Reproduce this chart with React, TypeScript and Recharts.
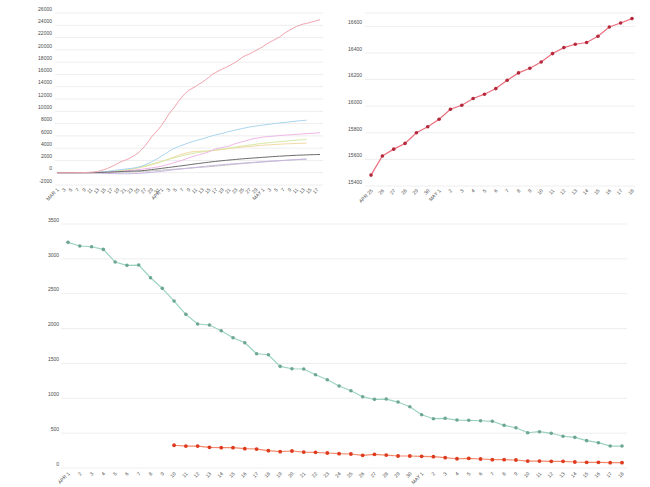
import { LineChart, Line, XAxis, YAxis, CartesianGrid } from "recharts";

// date labels: month shown on the first label of each run
const days = (month: string, from: number, to: number) => {
  const out: string[] = [];
  for (let d = from; d <= to; d++) out.push(d === from ? `${month} ${d}` : String(d));
  return out;
};

// top left: cumulative totals, MAR 1 - MAY 18
const totalDates = [...days("MAR", 1, 31), ...days("APR", 1, 30), ...days("MAY", 1, 18)];
const pinkTotals = [0,0,0,0,0,0,10,20,30,50, 80,120,200,350,500,700,950,1200,1500,1800, 2000,2200,2500,2800,3200,3700,4300,5000,5800,6400, 7000,7700,8500,9400,10100,10800,11600,12300,12900,13400, 13700,14000,14400,14700,15100,15500,16000,16300,16600,16900, 17100,17400,17700,18000,18400,18800,19100,19300,19600,19900, 20200,20500,20900,21200,21500,21800,22100,22500,22900,23200, 23500,23800,24000,24200,24300,24450,24600,24750,24900];
const blueTotals = [0,0,0,0,0,0,0,5,10,20, 30,50,80,120,170,230,300,380,450,520, 580,640,700,780,900,1050,1250,1500,1750,2050, 2350,2700,3050,3400,3750,4000,4250,4450,4650,4850, 5050,5200,5350,5500,5650,5850,6000,6150,6280,6400, 6550,6700,6830,6950,7080,7200,7320,7430,7520,7600, 7680,7750,7820,7890,7960,8030,8100,8160,8220,8280, 8340,8400,8450,8500,8550,null,null,null,null];
const magentaTotals = [0,0,0,0,0,0,0,0,5,10, 20,30,40,60,80,100,130,160,200,240, 280,330,380,440,500,560,630,700,780,870, 960,1060,1200,1350,1500,1700,1850,2000,2200,2400, 2600,2750,2900,3050,3200,3400,3650,3850,4000,4100, 4200,4350,4550,4750,4900,5050,5200,5350,5500,5600, 5700,5800,5850,5900,5950,6000,6050,6100,6130,6160, 6200,6240,6280,6320,6360,6400,6430,6460,6500];
const limeTotals = [0,0,0,0,0,0,0,0,10,20, 40,60,80,110,140,170,200,260,330,400, 480,560,650,750,860,980,1100,1250,1400,1550, 1700,1850,2000,2150,2300,2450,2600,2750,2900,3000, 3100,3200,3300,3380,3460,3540,3620,3700,3780,3860, 3940,4020,4100,4180,4260,4340,4420,4500,4570,4640, 4710,4780,4840,4900,4950,5000,5050,5100,5150,5200, 5250,5300,5340,5380,5420,null,null,null,null];
const yellowTotals = [0,0,0,0,0,0,0,0,5,10, 20,40,60,80,100,110,120,170,230,300, 380,460,550,650,760,880,1000,1150,1300,1450, 1600,1800,2000,2200,2400,2600,2800,3000,3150,3300, 3400,3450,3480,3500,3520,3550,3580,3620,3700,3780, 3850,3920,3990,4050,4110,4170,4220,4270,4320,4370, 4420,4460,4500,4540,4580,4610,4640,4670,4700,4720, 4740,4760,4780,4800,4820,null,null,null,null];
const darkTotals = [0,0,0,0,0,0,0,0,0,0, 0,10,20,40,60,90,110,140,160,190, 210,230,250,270,290,320,370,430,500,570, 640,710,780,850,920,990,1060,1130,1200,1280, 1360,1430,1500,1570,1640,1710,1780,1840,1900,1960, 2010,2060,2110,2160,2210,2260,2300,2340,2380,2420, 2460,2500,2540,2580,2620,2660,2690,2720,2750,2780, 2810,2840,2860,2880,2900,2920,2940,2950,2960];
const greyTotals = [0,0,0,0,0,0,0,0,0,0, 10,20,30,40,50,60,70,80,90,100, 110,120,140,160,180,200,230,260,300,340, 380,420,460,500,540,580,620,660,700,740, 780,820,860,900,940,980,1030,1080,1130,1180, 1230,1280,1330,1380,1430,1480,1530,1580,1620,1660, 1700,1740,1780,1820,1860,1900,1940,1980,2020,2060, 2100,2140,2180,2210,2240,null,null,null,null];
const purpleTotals = [0,0,0,0,0,0,0,0,0,0, -20,-40,-60,-80,-100,-120,-140,-150,-160,-170, -170,-160,-150,-130,-110,-80,-40,0,50,100, 160,220,290,360,430,500,560,620,680,740, 800,860,920,980,1040,1100,1150,1200,1250,1300, 1350,1400,1440,1480,1520,1560,1600,1640,1680,1720, 1760,1800,1840,1880,1910,1940,1970,2000,2030,2060, 2090,2120,2150,2170,2190,null,null,null,null];
const totalTicks = [-2000,0,2000,4000,6000,8000,10000,12000,14000,16000,18000,20000,22000,24000,26000];

// top right: APR 25 - MAY 18
const recentDates = [...days("APR", 25, 30), ...days("MAY", 1, 18)];
const recentValues = [15482,15625,15677,15720,15800,15845,15902,15977,16007,16058,16090,16132,16195,16250,16285,16332,16395,16440,16465,16478,16525,16595,16625,16658];
const recentTicks = [15400,15600,15800,16000,16200,16400,16600];

// bottom: APR 1 - MAY 18
const dailyDates = [...days("APR", 1, 30), ...days("MAY", 1, 18)];
const greenDaily = [3237,3184,3174,3136,2954,2907,2911,2729,2577,2395, 2204,2065,2051,1969,1869,1797,1639,1625,1458,1424, 1420,1338,1266,1176,1108,1022,985,989,946,879, 764,707,713,688,684,678,670,612,578,506, 521,498,455,440,392,363,315,315];
const redDaily = [null,null,null,null,null,null,null,null,null, 326,315,315,297,291,291,277,272,248,234, 244,229,225,215,205,201,182,196,186,172, 172,168,162,148,133,139,129,119,119,115, 100,100,96,96,86,82,82,76,76];
const dailyTicks = [0,500,1000,1500,2000,2500,3000,3500];

const totalsData = totalDates.map((date, i) => ({
  date,
  pink: pinkTotals[i],
  blue: blueTotals[i],
  magenta: magentaTotals[i],
  lime: limeTotals[i],
  yellow: yellowTotals[i],
  dark: darkTotals[i],
  grey: greyTotals[i],
  purple: purpleTotals[i],
}));
const recentData = recentDates.map((date, i) => ({ date, value: recentValues[i] }));
const dailyData = dailyDates.map((date, i) => ({ date, green: greenDaily[i], red: redDaily[i] }));

const LABEL = "#4a4a4a";

const YTick = (props: any) => (
  <text x={props.x} y={props.y - 4} dy="0.355em" textAnchor="end" fontSize={5} fill={LABEL}>
    {props.payload.value}
  </text>
);

const XTick = (props: any) => {
  const { x, y, payload, only } = props;
  if (only && !only(payload.value)) return null;
  return (
    <g transform={`translate(${x},${y})`}>
      <text transform="rotate(-45)" textAnchor="end" dy={3} fontSize={5} fill={LABEL}>
        {payload.value}
      </text>
    </g>
  );
};

const oddDay = (label: string) => parseInt(label.split(" ").pop() as string, 10) % 2 === 1;

const totalsSeries = [
  { key: "grey", color: "#c4c4c4" },
  { key: "purple", color: "#c9b6e4" },
  { key: "yellow", color: "#f3d9a3" },
  { key: "lime", color: "#d6e8a4" },
  { key: "magenta", color: "#f1b6e6" },
  { key: "blue", color: "#a9d5ef" },
  { key: "dark", color: "#6b6b6b" },
  { key: "pink", color: "#f0a3ad" },
];

export default function App() {
  return (
    <div style={{ position: "absolute", left: 0, top: 0, width: 650, height: 487, background: "#fff", fontFamily: "Arial, sans-serif" }}>
      <div style={{ position: "absolute", left: 0, top: 0 }}>
        <LineChart width={330} height={215} data={totalsData} margin={{ top: 13, right: 7, left: 0, bottom: 0 }}>
          <CartesianGrid vertical={false} stroke="#eeeeee" />
          <XAxis dataKey="date" interval={0} height={30} tickSize={0} tickMargin={3} axisLine={false} padding={{ left: 2, right: 3 }} tick={<XTick only={oddDay} />} />
          <YAxis width={55} domain={[-2000, 26000]} ticks={totalTicks} interval={0} tickSize={0} tickMargin={3} axisLine={false} tick={<YTick />} />
          {totalsSeries.map((s) => (
            <Line key={s.key} dataKey={s.key} type="linear" stroke={s.color} strokeWidth={1} dot={false} isAnimationActive={false} />
          ))}
        </LineChart>
      </div>
      <div style={{ position: "absolute", left: 330, top: 0 }}>
        <LineChart width={320} height={215} data={recentData} margin={{ top: 13, right: 15, left: 0, bottom: 0 }}>
          <CartesianGrid vertical={false} stroke="#eeeeee" />
          <XAxis dataKey="date" interval={0} height={29} tickSize={0} tickMargin={3} axisLine={false} padding={{ left: 6, right: 3 }} tick={<XTick />} />
          <YAxis width={35} domain={[15400, 16700]} ticks={recentTicks} interval={0} tickSize={0} tickMargin={3} axisLine={false} tick={<YTick />} />
          <Line dataKey="value" type="linear" stroke="#ea6f7d" strokeWidth={1.2} dot={{ r: 1.8, fill: "#b3283a", stroke: "none" }} isAnimationActive={false} />
        </LineChart>
      </div>
      <div style={{ position: "absolute", left: 0, top: 210 }}>
        <LineChart width={650} height={277} data={dailyData} margin={{ top: 14, right: 23, left: 0, bottom: 0 }}>
          <CartesianGrid vertical={false} stroke="#eeeeee" />
          <XAxis dataKey="date" interval={0} height={19} tickSize={0} tickMargin={4} axisLine={false} padding={{ left: 7, right: 5 }} tick={<XTick />} />
          <YAxis width={61} domain={[0, 3500]} ticks={dailyTicks} interval={0} tickSize={0} tickMargin={2} axisLine={false} tick={<YTick />} />
          <Line dataKey="green" type="linear" stroke="#9bd3bf" strokeWidth={1.2} dot={{ r: 1.8, fill: "#6ea791", stroke: "none" }} isAnimationActive={false} />
          <Line dataKey="red" type="linear" stroke="#f48a6c" strokeWidth={1.2} dot={{ r: 1.9, fill: "#dd3a1e", stroke: "none" }} isAnimationActive={false} />
        </LineChart>
      </div>
    </div>
  );
}
